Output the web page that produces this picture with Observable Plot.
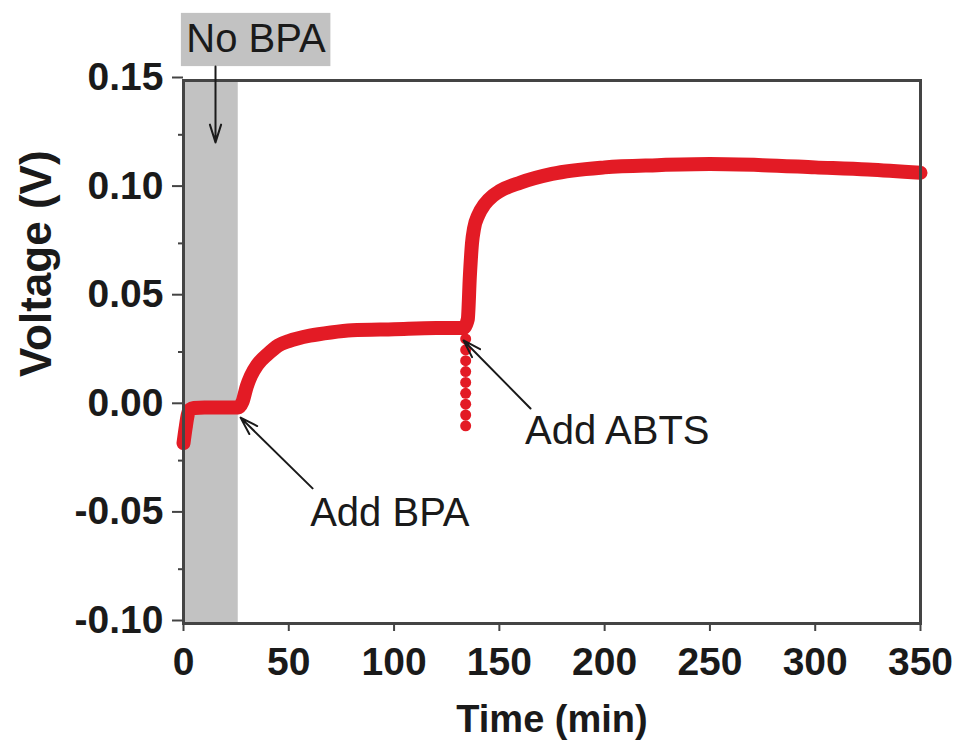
<!DOCTYPE html>
<html>
<head>
<meta charset="utf-8">
<script src="https://cdn.jsdelivr.net/npm/d3@7"></script>
<script src="https://cdn.jsdelivr.net/npm/@observablehq/plot@0.6"></script>
<style>
  html, body { margin: 0; padding: 0; background: #fff; }
</style>
</head>
<body>
<div id="chart"></div>
<script>
// ---- data ----
const time = [0, 1, 2, 3, 5, 10, 20, 26, 28, 30, 32, 35, 40, 45, 50, 60, 70, 80, 100, 120, 133,
              135, 136, 137, 138, 140, 143, 147, 150, 160, 175, 200, 225, 250, 275, 300, 325, 350];
const voltage = [-0.017, -0.010, -0.004, -0.0015, -0.0008, -0.0005, -0.0005, -0.0005, 0.002, 0.009, 0.014, 0.019, 0.024, 0.028, 0.030, 0.0325, 0.034, 0.035, 0.0355, 0.036, 0.036,
                 0.040, 0.060, 0.075, 0.082, 0.088, 0.093, 0.097, 0.099, 0.103, 0.107, 0.110, 0.111, 0.1115, 0.111, 0.110, 0.109, 0.1075];
// transient dip when ABTS is added
const dipTime = [134, 134, 134, 134, 134, 134, 134, 134, 134];
const dipVoltage = [0.031, 0.026, 0.021, 0.016, 0.011, 0.006, 0.001, -0.004, -0.009];

// shaded "No BPA" period
const bandStart = [0];
const bandEnd = [26];

const xTicks = [0, 50, 100, 150, 200, 250, 300, 350];
const yTicks = [-0.10, -0.05, 0.00, 0.05, 0.10, 0.15];
const yMinorTicks = [-0.075, -0.025, 0.025, 0.075, 0.125];

// annotations
const noteText = ["Add BPA", "Add ABTS"];
const noteX = [98, 206];
const noteY = [-0.049, -0.0115];
const arrowX1 = [61.3, 164.8, 15.2];
const arrowY1 = [-0.0378, -0.001, 0.1564];
const arrowX2 = [27.1, 133, 15.2];
const arrowY2 = [-0.0052, 0.0303, 0.1215];
const boxLabel = ["No BPA"];
const boxX1 = [-1], boxX2 = [70], boxY1 = [0.1564], boxY2 = [0.1809];
const boxTextX = [34.4], boxTextY = [0.1692];

const series = time.map((t, i) => ({t, v: voltage[i]}));
const dip = dipTime.map((t, i) => ({t, v: dipVoltage[i]}));
const band = bandStart.map((s, i) => ({x1: s, x2: bandEnd[i]}));
const notes = noteText.map((s, i) => ({s, x: noteX[i], y: noteY[i]}));
const arrows = arrowX1.map((x1, i) => ({x1, y1: arrowY1[i], x2: arrowX2[i], y2: arrowY2[i]}));
const box = boxLabel.map((s, i) => ({s, x1: boxX1[i], x2: boxX2[i], y1: boxY1[i], y2: boxY2[i], tx: boxTextX[i], ty: boxTextY[i]}));

const RED = "#e31b25";
const GRAY = "#c2c2c2";
const INK = "#1a1a1a";

const chart = Plot.plot({
  width: 961,
  height: 756,
  marginLeft: 183,
  marginRight: 41,
  marginTop: 80,
  marginBottom: 133,
  x: {domain: [0, 350]},
  y: {domain: [-0.10, 0.15]},
  style: {fontFamily: "'Liberation Sans', Arial, sans-serif", background: "#fff", color: INK},
  marks: [
    Plot.rect(band, {x1: "x1", x2: "x2", y1: -0.10, y2: 0.15, fill: GRAY}),
    Plot.rect(box, {x1: "x1", x2: "x2", y1: "y1", y2: "y2", fill: GRAY}),
    Plot.text(box, {x: "tx", y: "ty", text: "s", fontSize: 40, fill: INK}),
    Plot.line(series, {x: "t", y: "v", stroke: RED, strokeWidth: 14, curve: "monotone-x", strokeLinecap: "round", strokeLinejoin: "round"}),
    Plot.dot(dip, {x: "t", y: "v", r: 5.5, fill: RED}),
    Plot.frame({stroke: "#444", strokeWidth: 3}),
    Plot.axisX({ticks: xTicks, tickSize: 8, tickPadding: 16, fontSize: 39, fontWeight: "bold", label: null, stroke: "#444", strokeWidth: 2}),
    Plot.axisY({ticks: yTicks, tickSize: 11, tickPadding: 9, fontSize: 39, fontWeight: "bold", label: null, tickFormat: d => d.toFixed(2), dy: -3, stroke: "#444", strokeWidth: 2}),
    Plot.axisY({ticks: yMinorTicks, tickSize: 5, tickFormat: () => "", label: null, stroke: "#444", strokeWidth: 2}),
    Plot.arrow(arrows, {x1: "x1", y1: "y1", x2: "x2", y2: "y2", stroke: INK, strokeWidth: 2, headLength: 14, headAngle: 35}),
    Plot.text(notes, {x: "x", y: "y", text: "s", fontSize: 40, fill: INK}),
    Plot.text(["Time (min)"], {frameAnchor: "bottom", dy: 108, fontSize: 38, fontWeight: "bold", fill: INK}),
    Plot.text(["Voltage (V)"], {frameAnchor: "left", rotate: -90, dx: -147, dy: 25, fontSize: 44, fontWeight: "bold", fill: INK})
  ]
});
document.getElementById("chart").appendChild(chart);
</script>
</body>
</html>
